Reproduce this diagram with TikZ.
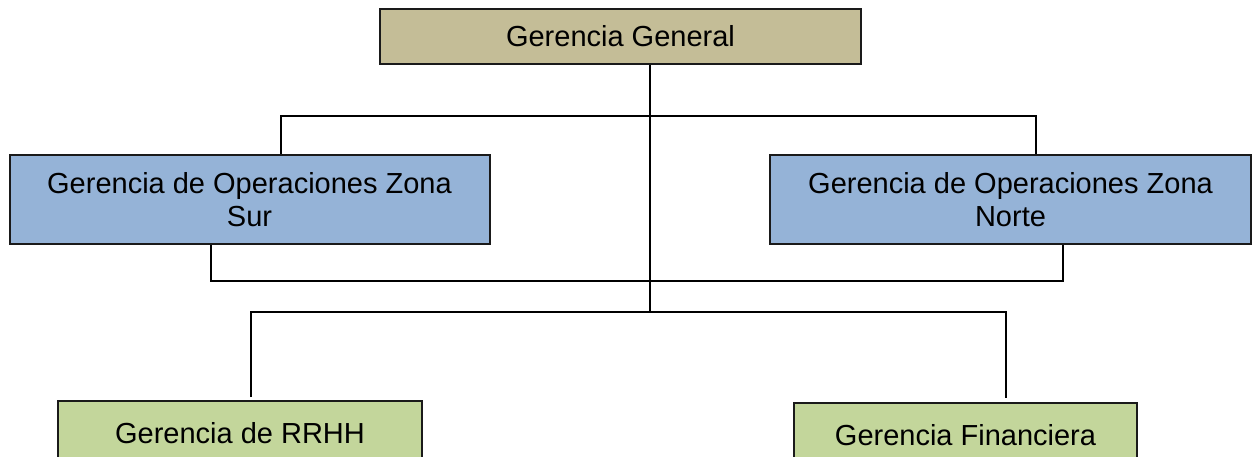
\documentclass[tikz,border=0pt]{standalone}
\usepackage{fontspec}
\setmainfont{Liberation Sans}
\definecolor{tanfill}{HTML}{C4BD97}
\definecolor{bluefill}{HTML}{95B3D7}
\definecolor{greenfill}{HTML}{C3D69B}
\definecolor{edge}{HTML}{1A1A1A}
\tikzset{
  unit/.style={draw=edge, line width=2pt, inner sep=0pt, align=center,
    font=\fontsize{29}{33}\selectfont, text=black},
  topunit/.style={unit, fill=tanfill},
  zoneunit/.style={unit, fill=bluefill},
  staffunit/.style={unit, fill=greenfill},
  link/.style={draw=black, line width=2pt}
}
\begin{document}
\begin{tikzpicture}[x=1pt, y=-1pt]
  \clip (0,0) rectangle (1252,457);
  \fill[white] (0,0) rectangle (1252,457);

  % boxes
  \node[topunit, minimum width=481pt, minimum height=55pt] (gg) at (620.5,36.5) {Gerencia General};
  \node[zoneunit, minimum width=480pt, minimum height=89pt] (gs) at (249.5,199.5)
    {Gerencia de Operaciones Zona\\Sur};
  \node[zoneunit, minimum width=481pt, minimum height=89pt] (gn) at (1010.5,199.5)
    {Gerencia de Operaciones Zona\\Norte};
  \node[staffunit, minimum width=364pt, minimum height=64pt] (rh) at (240,433) {Gerencia de RRHH};
  \node[staffunit, minimum width=343pt, minimum height=64pt] (fi) at (965.5,435) {Gerencia Financiera};

  % junction points of the connector buses
  \coordinate (spine) at (650,116);
  \coordinate (spineend) at (650,312);
  \coordinate (tl) at (281,116);
  \coordinate (tr) at (1036,116);
  \coordinate (ml) at (211,281);
  \coordinate (mr) at (1063,281);
  \coordinate (bl) at (251,312);
  \coordinate (br) at (1006,312);

  % connectors
  \draw[link] (spine |- gg.south) -- (spineend);
  \draw[link] (gs.north -| tl) -- (tl) -- (tr) -- (gn.north -| tr);
  \draw[link] (gs.south -| ml) -- (ml) -- (mr) -- (gn.south -| mr);
  \draw[link, shorten <=3pt, shorten >=4pt] (rh.north -| bl) -- (bl) -- (br) -- (fi.north -| br);
\end{tikzpicture}
\end{document}
